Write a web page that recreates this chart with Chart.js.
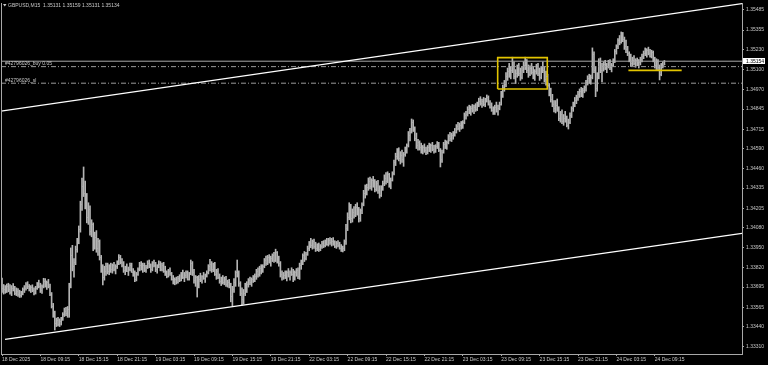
<!DOCTYPE html>
<html>
<head>
<meta charset="utf-8">
<script src="https://cdn.jsdelivr.net/npm/chart.js@4.4.1/dist/chart.umd.min.js"></script>
<style>
  html, body { margin: 0; padding: 0; background: #000; }
  #wrap { width: 768px; height: 365px; }
</style>
</head>
<body>
<div id="wrap"><canvas id="chart" width="768" height="365"></canvas></div>
<script>
const symbolTitle = 'GBPUSD,M15  1.35131 1.35159 1.35131 1.35134';

// time axis: one label every 24 bars (6 hours of M15)
const tickBars = [0, 24, 48, 72, 96, 120, 144, 168, 192, 216, 240, 264, 288, 312, 336, 360, 384, 408];
const tickLabels = ['18 Dec 2025', '18 Dec 09:15', '18 Dec 15:15', '18 Dec 21:15', '19 Dec 03:15', '19 Dec 09:15',
    '19 Dec 15:15', '19 Dec 21:15', '22 Dec 03:15', '22 Dec 09:15', '22 Dec 15:15', '22 Dec 21:15',
    '23 Dec 03:15', '23 Dec 09:15', '23 Dec 15:15', '23 Dec 21:15', '24 Dec 03:15', '24 Dec 09:15'];
const priceTicks = [1.33310, 1.33440, 1.33565, 1.33695, 1.33820, 1.33950, 1.34080, 1.34205, 1.34335,
    1.34460, 1.34590, 1.34715, 1.34845, 1.34970, 1.35100, 1.35230, 1.35355, 1.35485];

const opens = [
1.33720,1.33690,1.33680,1.33670,1.33700,1.33680,1.33665,1.33690,1.33685,1.33660,
1.33670,1.33650,1.33645,1.33660,1.33680,1.33690,1.33715,1.33700,1.33680,1.33695,
1.33675,1.33660,1.33690,1.33715,1.33700,1.33675,1.33700,1.33735,1.33710,1.33725,
1.33700,1.33650,1.33575,1.33520,1.33460,1.33480,1.33455,1.33475,1.33490,1.33520,
1.33540,1.33525,1.33555,1.33700,1.33900,1.33830,1.33860,1.33940,1.33990,1.34070,
1.34230,1.34350,1.34300,1.34230,1.34150,1.34200,1.34060,1.34100,1.33960,1.34020,
1.33950,1.33990,1.33890,1.33810,1.33760,1.33800,1.33830,1.33800,1.33825,1.33810,
1.33835,1.33815,1.33830,1.33850,1.33890,1.33860,1.33840,1.33805,1.33820,1.33800,
1.33810,1.33840,1.33795,1.33780,1.33750,1.33780,1.33810,1.33840,1.33820,1.33835,
1.33805,1.33825,1.33850,1.33830,1.33810,1.33855,1.33840,1.33815,1.33830,1.33845,
1.33815,1.33840,1.33800,1.33780,1.33770,1.33800,1.33785,1.33750,1.33725,1.33745,
1.33730,1.33755,1.33740,1.33780,1.33760,1.33775,1.33790,1.33750,1.33785,1.33850,
1.33790,1.33740,1.33760,1.33700,1.33750,1.33740,1.33765,1.33755,1.33770,1.33790,
1.33830,1.33845,1.33810,1.33840,1.33780,1.33800,1.33760,1.33735,1.33750,1.33725,
1.33745,1.33715,1.33730,1.33700,1.33640,1.33680,1.33730,1.33790,1.33780,1.33720,
1.33660,1.33620,1.33660,1.33700,1.33715,1.33740,1.33725,1.33745,1.33760,1.33770,
1.33800,1.33780,1.33820,1.33800,1.33830,1.33870,1.33850,1.33890,1.33865,1.33880,
1.33900,1.33870,1.33920,1.33870,1.33850,1.33780,1.33760,1.33775,1.33765,1.33790,
1.33770,1.33795,1.33780,1.33750,1.33790,1.33805,1.33770,1.33840,1.33860,1.33900,
1.33880,1.33910,1.33950,1.33980,1.33965,1.33990,1.33960,1.33945,1.33965,1.33940,
1.33960,1.33980,1.33965,1.33990,1.33975,1.34000,1.33985,1.33995,1.33975,1.33960,
1.33980,1.33965,1.33950,1.33940,1.33945,1.33990,1.34080,1.34150,1.34210,1.34140,
1.34180,1.34160,1.34215,1.34180,1.34140,1.34190,1.34230,1.34300,1.34330,1.34340,
1.34380,1.34350,1.34385,1.34360,1.34330,1.34370,1.34320,1.34290,1.34340,1.34370,
1.34400,1.34380,1.34425,1.34360,1.34390,1.34430,1.34500,1.34540,1.34570,1.34530,
1.34550,1.34520,1.34555,1.34590,1.34610,1.34680,1.34700,1.34760,1.34720,1.34660,
1.34610,1.34630,1.34600,1.34575,1.34600,1.34580,1.34565,1.34600,1.34585,1.34610,
1.34590,1.34575,1.34605,1.34620,1.34580,1.34520,1.34570,1.34620,1.34600,1.34630,
1.34670,1.34655,1.34680,1.34690,1.34700,1.34735,1.34720,1.34745,1.34730,1.34760,
1.34805,1.34815,1.34845,1.34830,1.34855,1.34840,1.34860,1.34845,1.34880,1.34900,
1.34885,1.34895,1.34875,1.34905,1.34920,1.34880,1.34860,1.34840,1.34830,1.34860,
1.34835,1.34850,1.34880,1.34945,1.34985,1.35010,1.35060,1.35090,1.35070,1.35100,
1.35120,1.35060,1.35080,1.35110,1.35075,1.35050,1.35100,1.35130,1.35150,1.35100,
1.35070,1.35110,1.35085,1.35060,1.35090,1.35120,1.35075,1.35050,1.35105,1.35095,
1.35040,1.35060,1.35000,1.34950,1.34910,1.34880,1.34850,1.34870,1.34840,1.34790,
1.34810,1.34770,1.34790,1.34775,1.34745,1.34760,1.34805,1.34850,1.34875,1.34905,
1.34920,1.34945,1.34960,1.34940,1.34970,1.34985,1.35020,1.35045,1.35025,1.35055,
1.35200,1.35100,1.34980,1.35060,1.35150,1.35100,1.35120,1.35135,1.35110,1.35125,
1.35150,1.35115,1.35130,1.35160,1.35220,1.35250,1.35290,1.35280,1.35330,1.35300,
1.35250,1.35230,1.35205,1.35170,1.35140,1.35165,1.35145,1.35160,1.35135,1.35150,
1.35170,1.35185,1.35210,1.35200,1.35225,1.35210,1.35190,1.35215,1.35160,1.35130,
1.35155,1.35115,1.35070,1.35125,1.35131];

const highs = [
1.33754,1.33712,1.33705,1.33715,1.33720,1.33712,1.33705,1.33718,1.33700,1.33690,
1.33685,1.33675,1.33668,1.33690,1.33705,1.33725,1.33730,1.33712,1.33705,1.33710,
1.33690,1.33700,1.33725,1.33740,1.33720,1.33710,1.33752,1.33750,1.33735,1.33745,
1.33715,1.33660,1.33590,1.33540,1.33495,1.33500,1.33490,1.33500,1.33530,1.33560,
1.33565,1.33570,1.33720,1.33948,1.33965,1.33880,1.33960,1.34010,1.34090,1.34250,
1.34400,1.34471,1.34380,1.34300,1.34240,1.34220,1.34130,1.34110,1.34050,1.34060,
1.34010,1.34000,1.33900,1.33840,1.33830,1.33850,1.33850,1.33840,1.33850,1.33845,
1.33855,1.33840,1.33865,1.33905,1.33900,1.33880,1.33860,1.33830,1.33845,1.33825,
1.33850,1.33850,1.33815,1.33800,1.33790,1.33820,1.33855,1.33860,1.33850,1.33850,
1.33835,1.33865,1.33870,1.33845,1.33860,1.33870,1.33855,1.33840,1.33865,1.33860,
1.33850,1.33855,1.33830,1.33800,1.33810,1.33820,1.33790,1.33770,1.33755,1.33760,
1.33765,1.33775,1.33790,1.33805,1.33790,1.33800,1.33800,1.33790,1.33870,1.33860,
1.33810,1.33770,1.33765,1.33770,1.33785,1.33770,1.33790,1.33780,1.33800,1.33840,
1.33875,1.33860,1.33850,1.33855,1.33810,1.33815,1.33780,1.33760,1.33770,1.33760,
1.33765,1.33740,1.33745,1.33720,1.33700,1.33750,1.33800,1.33870,1.33800,1.33730,
1.33690,1.33680,1.33720,1.33730,1.33750,1.33760,1.33755,1.33770,1.33780,1.33810,
1.33820,1.33830,1.33840,1.33840,1.33880,1.33895,1.33900,1.33905,1.33895,1.33910,
1.33920,1.33940,1.33925,1.33895,1.33860,1.33800,1.33790,1.33800,1.33800,1.33815,
1.33800,1.33820,1.33810,1.33800,1.33815,1.33820,1.33850,1.33870,1.33910,1.33925,
1.33920,1.33960,1.33990,1.34010,1.34000,1.34005,1.33985,1.33975,1.33980,1.33970,
1.33990,1.33995,1.34000,1.34010,1.34010,1.34015,1.34010,1.34015,1.33995,1.33990,
1.33995,1.33985,1.33970,1.33960,1.34000,1.34100,1.34175,1.34240,1.34230,1.34200,
1.34215,1.34230,1.34240,1.34210,1.34200,1.34240,1.34320,1.34355,1.34360,1.34400,
1.34405,1.34395,1.34410,1.34390,1.34380,1.34385,1.34350,1.34350,1.34380,1.34420,
1.34435,1.34440,1.34430,1.34400,1.34440,1.34515,1.34560,1.34590,1.34595,1.34570,
1.34580,1.34565,1.34600,1.34620,1.34700,1.34720,1.34781,1.34775,1.34730,1.34690,
1.34650,1.34640,1.34625,1.34610,1.34620,1.34600,1.34610,1.34625,1.34620,1.34630,
1.34610,1.34615,1.34635,1.34630,1.34590,1.34580,1.34630,1.34645,1.34640,1.34680,
1.34695,1.34690,1.34700,1.34720,1.34745,1.34760,1.34755,1.34765,1.34770,1.34820,
1.34830,1.34860,1.34870,1.34865,1.34875,1.34870,1.34880,1.34890,1.34915,1.34925,
1.34910,1.34920,1.34915,1.34936,1.34930,1.34900,1.34885,1.34860,1.34870,1.34890,
1.34870,1.34890,1.34960,1.35000,1.35030,1.35080,1.35110,1.35140,1.35120,1.35180,
1.35150,1.35100,1.35130,1.35140,1.35110,1.35120,1.35150,1.35180,1.35165,1.35130,
1.35125,1.35140,1.35120,1.35100,1.35135,1.35140,1.35110,1.35120,1.35150,1.35120,
1.35090,1.35070,1.35010,1.34980,1.34940,1.34900,1.34900,1.34910,1.34860,1.34830,
1.34840,1.34810,1.34830,1.34800,1.34780,1.34820,1.34860,1.34890,1.34920,1.34935,
1.34960,1.34975,1.34985,1.34980,1.34995,1.35030,1.35060,1.35070,1.35065,1.35240,
1.35215,1.35120,1.35080,1.35170,1.35175,1.35140,1.35150,1.35160,1.35140,1.35160,
1.35165,1.35140,1.35170,1.35230,1.35260,1.35300,1.35320,1.35343,1.35340,1.35310,
1.35290,1.35250,1.35215,1.35200,1.35180,1.35190,1.35170,1.35175,1.35165,1.35180,
1.35200,1.35220,1.35240,1.35235,1.35245,1.35230,1.35225,1.35220,1.35180,1.35170,
1.35165,1.35130,1.35140,1.35150,1.35159];

const lows = [
1.33660,1.33650,1.33655,1.33660,1.33665,1.33650,1.33640,1.33670,1.33645,1.33640,
1.33635,1.33628,1.33630,1.33645,1.33660,1.33675,1.33685,1.33670,1.33660,1.33665,
1.33645,1.33650,1.33680,1.33690,1.33660,1.33655,1.33690,1.33695,1.33680,1.33690,
1.33640,1.33560,1.33500,1.33418,1.33440,1.33445,1.33440,1.33450,1.33480,1.33505,
1.33510,1.33500,1.33500,1.33690,1.33800,1.33760,1.33840,1.33920,1.33975,1.34050,
1.34190,1.34280,1.34200,1.34110,1.34100,1.34030,1.34020,1.33930,1.33940,1.33920,
1.33900,1.33870,1.33790,1.33709,1.33740,1.33770,1.33780,1.33775,1.33790,1.33785,
1.33800,1.33780,1.33815,1.33840,1.33845,1.33825,1.33790,1.33775,1.33795,1.33770,
1.33800,1.33790,1.33765,1.33730,1.33735,1.33770,1.33800,1.33805,1.33790,1.33795,
1.33790,1.33815,1.33820,1.33790,1.33800,1.33825,1.33795,1.33785,1.33820,1.33800,
1.33800,1.33790,1.33770,1.33755,1.33760,1.33770,1.33740,1.33715,1.33710,1.33715,
1.33720,1.33730,1.33735,1.33750,1.33730,1.33755,1.33740,1.33740,1.33775,1.33770,
1.33720,1.33700,1.33631,1.33690,1.33730,1.33720,1.33745,1.33725,1.33760,1.33780,
1.33800,1.33790,1.33795,1.33770,1.33745,1.33750,1.33720,1.33705,1.33715,1.33710,
1.33700,1.33695,1.33690,1.33600,1.33575,1.33660,1.33700,1.33760,1.33700,1.33640,
1.33580,1.33585,1.33640,1.33660,1.33695,1.33710,1.33700,1.33725,1.33730,1.33745,
1.33760,1.33765,1.33780,1.33790,1.33820,1.33835,1.33840,1.33850,1.33830,1.33860,
1.33855,1.33860,1.33850,1.33830,1.33760,1.33740,1.33745,1.33750,1.33735,1.33760,
1.33740,1.33770,1.33730,1.33740,1.33765,1.33750,1.33745,1.33810,1.33840,1.33860,
1.33870,1.33900,1.33930,1.33950,1.33940,1.33945,1.33925,1.33930,1.33925,1.33930,
1.33945,1.33950,1.33955,1.33965,1.33960,1.33970,1.33960,1.33965,1.33950,1.33945,
1.33955,1.33940,1.33925,1.33922,1.33930,1.33970,1.34060,1.34130,1.34110,1.34115,
1.34140,1.34150,1.34160,1.34115,1.34120,1.34170,1.34220,1.34270,1.34290,1.34320,
1.34330,1.34320,1.34340,1.34310,1.34315,1.34300,1.34270,1.34280,1.34320,1.34350,
1.34360,1.34370,1.34340,1.34330,1.34380,1.34420,1.34480,1.34520,1.34510,1.34490,
1.34500,1.34475,1.34540,1.34560,1.34600,1.34640,1.34690,1.34700,1.34640,1.34590,
1.34580,1.34580,1.34560,1.34555,1.34565,1.34550,1.34555,1.34570,1.34565,1.34575,
1.34560,1.34565,1.34590,1.34570,1.34471,1.34500,1.34560,1.34590,1.34585,1.34620,
1.34640,1.34635,1.34650,1.34670,1.34690,1.34710,1.34700,1.34715,1.34720,1.34750,
1.34780,1.34800,1.34815,1.34805,1.34825,1.34815,1.34830,1.34835,1.34860,1.34870,
1.34855,1.34865,1.34860,1.34890,1.34870,1.34850,1.34830,1.34810,1.34810,1.34825,
1.34805,1.34840,1.34870,1.34920,1.34960,1.34990,1.35030,1.35050,1.35040,1.35080,
1.35040,1.35010,1.35050,1.35060,1.35030,1.35040,1.35080,1.35100,1.35080,1.35050,
1.35060,1.35070,1.35040,1.35030,1.35070,1.35060,1.35030,1.35040,1.35080,1.35020,
1.35000,1.34990,1.34930,1.34890,1.34860,1.34826,1.34820,1.34830,1.34770,1.34760,
1.34750,1.34740,1.34760,1.34730,1.34716,1.34750,1.34790,1.34830,1.34860,1.34880,
1.34900,1.34920,1.34925,1.34920,1.34950,1.34960,1.35000,1.35010,1.35005,1.35040,
1.35080,1.34925,1.34960,1.35040,1.35080,1.35020,1.35090,1.35100,1.35080,1.35110,
1.35100,1.35085,1.35120,1.35145,1.35200,1.35235,1.35260,1.35270,1.35280,1.35230,
1.35210,1.35190,1.35150,1.35120,1.35125,1.35130,1.35115,1.35125,1.35110,1.35130,
1.35150,1.35170,1.35190,1.35180,1.35195,1.35180,1.35175,1.35150,1.35110,1.35100,
1.35100,1.35033,1.35060,1.35110,1.35131];

const closes = [
1.33690,1.33680,1.33670,1.33700,1.33680,1.33665,1.33690,1.33685,1.33660,1.33670,
1.33650,1.33645,1.33660,1.33680,1.33690,1.33715,1.33700,1.33680,1.33695,1.33675,
1.33660,1.33690,1.33715,1.33700,1.33675,1.33700,1.33735,1.33710,1.33725,1.33700,
1.33650,1.33575,1.33520,1.33460,1.33480,1.33455,1.33475,1.33490,1.33520,1.33540,
1.33525,1.33555,1.33700,1.33900,1.33830,1.33860,1.33940,1.33990,1.34070,1.34230,
1.34350,1.34300,1.34230,1.34150,1.34200,1.34060,1.34100,1.33960,1.34020,1.33950,
1.33990,1.33890,1.33810,1.33760,1.33800,1.33830,1.33800,1.33825,1.33810,1.33835,
1.33815,1.33830,1.33850,1.33890,1.33860,1.33840,1.33805,1.33820,1.33800,1.33810,
1.33840,1.33795,1.33780,1.33750,1.33780,1.33810,1.33840,1.33820,1.33835,1.33805,
1.33825,1.33850,1.33830,1.33810,1.33855,1.33840,1.33815,1.33830,1.33845,1.33815,
1.33840,1.33800,1.33780,1.33770,1.33800,1.33785,1.33750,1.33725,1.33745,1.33730,
1.33755,1.33740,1.33780,1.33760,1.33775,1.33790,1.33750,1.33785,1.33850,1.33790,
1.33740,1.33760,1.33700,1.33750,1.33740,1.33765,1.33755,1.33770,1.33790,1.33830,
1.33845,1.33810,1.33840,1.33780,1.33800,1.33760,1.33735,1.33750,1.33725,1.33745,
1.33715,1.33730,1.33700,1.33640,1.33680,1.33730,1.33790,1.33780,1.33720,1.33660,
1.33620,1.33660,1.33700,1.33715,1.33740,1.33725,1.33745,1.33760,1.33770,1.33800,
1.33780,1.33820,1.33800,1.33830,1.33870,1.33850,1.33890,1.33865,1.33880,1.33900,
1.33870,1.33920,1.33870,1.33850,1.33780,1.33760,1.33775,1.33765,1.33790,1.33770,
1.33795,1.33780,1.33750,1.33790,1.33805,1.33770,1.33840,1.33860,1.33900,1.33880,
1.33910,1.33950,1.33980,1.33965,1.33990,1.33960,1.33945,1.33965,1.33940,1.33960,
1.33980,1.33965,1.33990,1.33975,1.34000,1.33985,1.33995,1.33975,1.33960,1.33980,
1.33965,1.33950,1.33940,1.33945,1.33990,1.34080,1.34150,1.34210,1.34140,1.34180,
1.34160,1.34215,1.34180,1.34140,1.34190,1.34230,1.34300,1.34330,1.34340,1.34380,
1.34350,1.34385,1.34360,1.34330,1.34370,1.34320,1.34290,1.34340,1.34370,1.34400,
1.34380,1.34425,1.34360,1.34390,1.34430,1.34500,1.34540,1.34570,1.34530,1.34550,
1.34520,1.34555,1.34590,1.34610,1.34680,1.34700,1.34760,1.34720,1.34660,1.34610,
1.34630,1.34600,1.34575,1.34600,1.34580,1.34565,1.34600,1.34585,1.34610,1.34590,
1.34575,1.34605,1.34620,1.34580,1.34520,1.34570,1.34620,1.34600,1.34630,1.34670,
1.34655,1.34680,1.34690,1.34700,1.34735,1.34720,1.34745,1.34730,1.34760,1.34805,
1.34815,1.34845,1.34830,1.34855,1.34840,1.34860,1.34845,1.34880,1.34900,1.34885,
1.34895,1.34875,1.34905,1.34920,1.34880,1.34860,1.34840,1.34830,1.34860,1.34835,
1.34850,1.34880,1.34945,1.34985,1.35010,1.35060,1.35090,1.35070,1.35100,1.35120,
1.35060,1.35080,1.35110,1.35075,1.35050,1.35100,1.35130,1.35150,1.35100,1.35070,
1.35110,1.35085,1.35060,1.35090,1.35120,1.35075,1.35050,1.35105,1.35095,1.35040,
1.35060,1.35000,1.34950,1.34910,1.34880,1.34850,1.34870,1.34840,1.34790,1.34810,
1.34770,1.34790,1.34775,1.34745,1.34760,1.34805,1.34850,1.34875,1.34905,1.34920,
1.34945,1.34960,1.34940,1.34970,1.34985,1.35020,1.35045,1.35025,1.35055,1.35200,
1.35100,1.34980,1.35060,1.35150,1.35100,1.35120,1.35135,1.35110,1.35125,1.35150,
1.35115,1.35130,1.35160,1.35220,1.35250,1.35290,1.35280,1.35330,1.35300,1.35250,
1.35230,1.35205,1.35170,1.35140,1.35165,1.35145,1.35160,1.35135,1.35150,1.35170,
1.35185,1.35210,1.35200,1.35225,1.35210,1.35190,1.35215,1.35160,1.35130,1.35155,
1.35115,1.35070,1.35125,1.35131,1.35134];

// objects drawn on the chart (bar index, price)
const upperTrend = [[-0.625, 1.34832], [462.5, 1.35526]];
const lowerTrend = [[1.9, 1.33358], [462.5, 1.34042]];
const boxBars = [309.8, 340.8];
const boxPrices = [1.34975, 1.35177];
const levelBars = [391.5, 424.8];
const levelPrice = 1.35095;
const bidPrice = 1.35154;
const orderLabels = ['#42796026_buy 0.05', '#42796026_sl'];
const orderPrices = [1.35119, 1.35012];

const xMin = -0.625, xMax = 462.5;
const yMin = 1.33263, yMax = 1.35530;

const barColor = '#b4b4b4';
const tickColor = 'rgba(180,180,180,0.6)';
const textColor = '#c8c8c8';
const frameColor = '#a8a8a8';
const yellow = '#e2c400';
const font = { family: 'Liberation Sans, Arial, sans-serif', size: 5 };

const toXY = pts => pts.map(p => ({ x: p[0], y: p[1] }));

const bgPlugin = {
    id: 'bg',
    beforeDraw(chart) {
        const ctx = chart.ctx;
        ctx.save();
        ctx.fillStyle = '#000';
        ctx.fillRect(0, 0, chart.width, chart.height);
        ctx.restore();
    }
};

// open / close ticks of each bar
const tickPlugin = {
    id: 'barTicks',
    afterDatasetsDraw(chart) {
        const meta = chart.getDatasetMeta(0);
        const ys = chart.scales.y;
        const ctx = chart.ctx;
        const a = chart.chartArea;
        ctx.save();
        ctx.beginPath();
        ctx.rect(a.left, a.top, a.right - a.left, a.bottom - a.top);
        ctx.clip();
        ctx.strokeStyle = tickColor;
        ctx.lineWidth = 1;
        ctx.beginPath();
        meta.data.forEach((el, i) => {
            const yo = Math.round(ys.getPixelForValue(opens[i])) + 0.5;
            const yc = Math.round(ys.getPixelForValue(closes[i])) + 0.5;
            ctx.moveTo(el.x - 0.9, yo); ctx.lineTo(el.x, yo);
            ctx.moveTo(el.x, yc); ctx.lineTo(el.x + 0.9, yc);
        });
        ctx.stroke();
        ctx.restore();
    }
};

const textPlugin = {
    id: 'texts',
    afterDraw(chart) {
        const ctx = chart.ctx;
        const a = chart.chartArea;
        const ys = chart.scales.y;
        ctx.save();
        // frame
        ctx.strokeStyle = frameColor;
        ctx.lineWidth = 1;
        ctx.beginPath();
        ctx.moveTo(a.left + 0.5, a.top);
        ctx.lineTo(a.left + 0.5, a.bottom + 0.5);
        ctx.stroke();

        ctx.font = font.size + 'px ' + font.family;
        ctx.fillStyle = textColor;
        ctx.textBaseline = 'middle';
        // header
        ctx.beginPath();
        ctx.moveTo(3, 4); ctx.lineTo(6.5, 4); ctx.lineTo(4.75, 6.5);
        ctx.closePath();
        ctx.fill();
        ctx.fillText(symbolTitle, 8, 5.2);

        // order labels
        ctx.textBaseline = 'alphabetic';
        orderLabels.forEach((t, k) => {
            ctx.fillText(t, 5, ys.getPixelForValue(orderPrices[k]) - 1.2);
        });

        // bid price box on the axis
        const yb = Math.round(ys.getPixelForValue(bidPrice));
        ctx.fillStyle = '#ffffff';
        ctx.fillRect(a.right + 1, yb - 3, 22, 6);
        ctx.fillStyle = '#000000';
        ctx.textBaseline = 'middle';
        ctx.fillText(bidPrice.toFixed(5), a.right + 4, yb + 0.3);
        ctx.restore();
    }
};

const ctx = document.getElementById('chart').getContext('2d');
new Chart(ctx, {
    type: 'bar',
    data: {
        datasets: [
            {
                label: 'bars',
                data: highs.map((h, i) => ({ x: i, y: [lows[i], h] })),
                backgroundColor: barColor,
                borderWidth: 0,
                barThickness: 1,
                grouped: false,
                order: 2
            },
            {
                type: 'line', label: 'upper channel',
                data: toXY(upperTrend),
                borderColor: '#ffffff', borderWidth: 1.2, pointRadius: 0, order: 1
            },
            {
                type: 'line', label: 'lower channel',
                data: toXY(lowerTrend),
                borderColor: '#ffffff', borderWidth: 1.2, pointRadius: 0, order: 1
            },
            {
                type: 'line', label: 'bid',
                data: [{ x: xMin, y: bidPrice }, { x: xMax, y: bidPrice }],
                borderColor: '#a8a8a8', borderWidth: 1, pointRadius: 0, order: 1
            },
            {
                type: 'line', label: 'entry',
                data: [{ x: xMin, y: orderPrices[0] }, { x: xMax, y: orderPrices[0] }],
                borderColor: '#9a9a9a', borderWidth: 1, borderDash: [5, 2, 1, 2], pointRadius: 0, order: 1
            },
            {
                type: 'line', label: 'stop',
                data: [{ x: xMin, y: orderPrices[1] }, { x: xMax, y: orderPrices[1] }],
                borderColor: '#9a9a9a', borderWidth: 1, borderDash: [5, 2, 1, 2], pointRadius: 0, order: 1
            },
            {
                type: 'line', label: 'box',
                data: [
                    { x: boxBars[0], y: boxPrices[0] }, { x: boxBars[0], y: boxPrices[1] },
                    { x: boxBars[1], y: boxPrices[1] }, { x: boxBars[1], y: boxPrices[0] },
                    { x: boxBars[0], y: boxPrices[0] }
                ],
                borderColor: yellow, borderWidth: 1.6, pointRadius: 0, order: 0
            },
            {
                type: 'line', label: 'level',
                data: [{ x: levelBars[0], y: levelPrice }, { x: levelBars[1], y: levelPrice }],
                borderColor: yellow, borderWidth: 1.6, pointRadius: 0, order: 0
            }
        ]
    },
    options: {
        responsive: false,
        devicePixelRatio: 1,
        animation: false,
        events: [],
        layout: { padding: { left: 1, top: 3, right: 0, bottom: 0 } },
        plugins: {
            legend: { display: false },
            tooltip: { enabled: false }
        },
        scales: {
            x: {
                type: 'linear',
                min: xMin,
                max: xMax,
                offset: false,
                afterBuildTicks: s => { s.ticks = tickBars.map(v => ({ value: v })); },
                afterFit: s => { s.height = 11; s.paddingLeft = 0; s.paddingRight = 0; },
                grid: { display: true, drawOnChartArea: false, drawTicks: true, tickLength: 2, color: frameColor, offset: false },
                border: { display: true, color: frameColor },
                ticks: {
                    color: textColor,
                    font: font,
                    align: 'start',
                    padding: 1,
                    maxRotation: 0,
                    minRotation: 0,
                    autoSkip: false,
                    callback: v => tickLabels[tickBars.indexOf(v)]
                }
            },
            y: {
                position: 'right',
                min: yMin,
                max: yMax,
                afterBuildTicks: s => { s.ticks = priceTicks.map(v => ({ value: v })); },
                afterFit: s => { s.width = 26; s.paddingTop = 0; s.paddingBottom = 0; },
                grid: { display: true, drawOnChartArea: false, drawTicks: true, tickLength: 2, color: frameColor },
                border: { display: true, color: frameColor },
                ticks: {
                    color: textColor,
                    font: font,
                    padding: 2,
                    autoSkip: false,
                    callback: v => v.toFixed(5)
                }
            }
        }
    },
    plugins: [bgPlugin, tickPlugin, textPlugin]
});
</script>
</body>
</html>
